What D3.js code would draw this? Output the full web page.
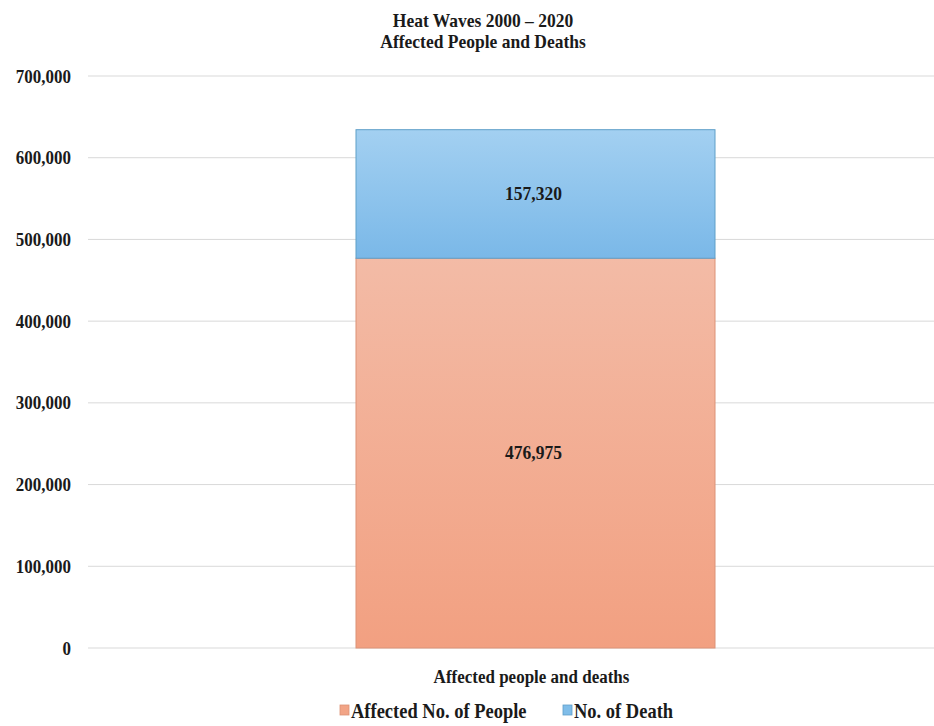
<!DOCTYPE html>
<html>
<head>
<meta charset="utf-8">
<script src="https://cdn.jsdelivr.net/npm/d3@7"></script>
<style>
  body { margin: 0; background: #fff; }
  text { font-family: "Liberation Serif", "Times New Roman", serif; font-weight: bold; fill: #1a1a1a; }
</style>
</head>
<body>
<svg id="chart" width="934" height="726"></svg>
<script>
const categories = ["Affected people and deaths"];
const seriesNames = ["Affected No. of People", "No. of Death"];
const affected = [476975];
const deaths = [157320];
const yTicks = [0, 100000, 200000, 300000, 400000, 500000, 600000, 700000];
const titleLines = ["Heat Waves 2000 \u2013 2020", "Affected People and Deaths"];

const svg = d3.select("#chart");
const margin = { top: 76, right: 0, bottom: 78, left: 88 };
const width = 934 - margin.left - margin.right;
const height = 726 - margin.top - margin.bottom;

const defs = svg.append("defs");
function grad(id, top, bottom) {
    const g = defs.append("linearGradient").attr("id", id)
        .attr("x1", 0).attr("y1", 0).attr("x2", 0).attr("y2", 1);
    g.append("stop").attr("offset", "0%").attr("stop-color", top);
    g.append("stop").attr("offset", "100%").attr("stop-color", bottom);
}
grad("gOrange", "#f3bba6", "#f2a081");
grad("gBlue", "#a3d0f1", "#7ab8e8");

const colors = ["url(#gOrange)", "url(#gBlue)"];
const strokes = ["#dc9276", "#5f9fc8"];
const legendColors = ["#f2a486", "#7fbde9"];

// text slightly stretched vertically like the original
function label(sel, x, y, txt, size, anchor, sy) {
    return sel.append("text")
        .attr("transform", `translate(${x},${y}) scale(1,${sy || 1.12})`)
        .attr("text-anchor", anchor || "middle")
        .style("font-size", size + "px")
        .text(txt);
}

const g = svg.append("g").attr("transform", `translate(${margin.left},${margin.top})`);

const y = d3.scaleLinear().domain([0, 700000]).range([height, 0]);

// gridlines
g.append("g").selectAll("line").data(yTicks).enter().append("line")
    .attr("x1", 0).attr("x2", width)
    .attr("y1", d => y(d)).attr("y2", d => y(d))
    .attr("stroke", "#d9d9d9").attr("stroke-width", 1);

// y axis labels
const yAxis = d3.axisLeft(y).tickValues(yTicks).tickSize(0).tickPadding(17)
    .tickFormat(d3.format(","));
g.append("g").call(yAxis)
    .call(s => s.select(".domain").remove())
    .selectAll("text")
    .attr("dy", null)
    .attr("transform", "translate(0,6) scale(1,1.12)")
    .style("font-size", "17px").attr("fill", "#1a1a1a");

// stacked data
const rows = categories.map((c, i) => ({ cat: c, a: affected[i], d: deaths[i] }));
const stack = d3.stack().keys(["a", "d"])(rows);

const barX = 268;
const barW = 359;

stack.forEach((layer, li) => {
    g.append("g").selectAll("rect").data(layer).enter().append("rect")
        .attr("x", barX)
        .attr("width", barW)
        .attr("y", d => y(d[1]))
        .attr("height", d => y(d[0]) - y(d[1]))
        .attr("fill", colors[li])
        .attr("stroke", strokes[li]).attr("stroke-width", 1);
    layer.forEach(d => {
        label(g, barX + barW / 2 - 2, (y(d[0]) + y(d[1])) / 2 + 6, d3.format(",")(d[1] - d[0]), 17.5);
    });
});

// category label
label(g, barX + barW / 2 - 4, height + 35, categories[0], 17);

// title
titleLines.forEach((t, i) => label(svg, 483, 27 + i * 21, t, 17.5, "middle", 1.05));

// legend
const legend = svg.append("g").attr("transform", "translate(340,718)");
const legendX = [0, 223];
seriesNames.forEach((name, i) => {
    const item = legend.append("g").attr("transform", `translate(${legendX[i]},0)`);
    item.append("rect").attr("x", 0).attr("y", -13).attr("width", 9).attr("height", 10)
        .attr("fill", legendColors[i]).attr("stroke", strokes[i]).attr("stroke-width", 0.8);
    label(item, 11, 0, name, 18.5, "start");
});
</script>
</body>
</html>
